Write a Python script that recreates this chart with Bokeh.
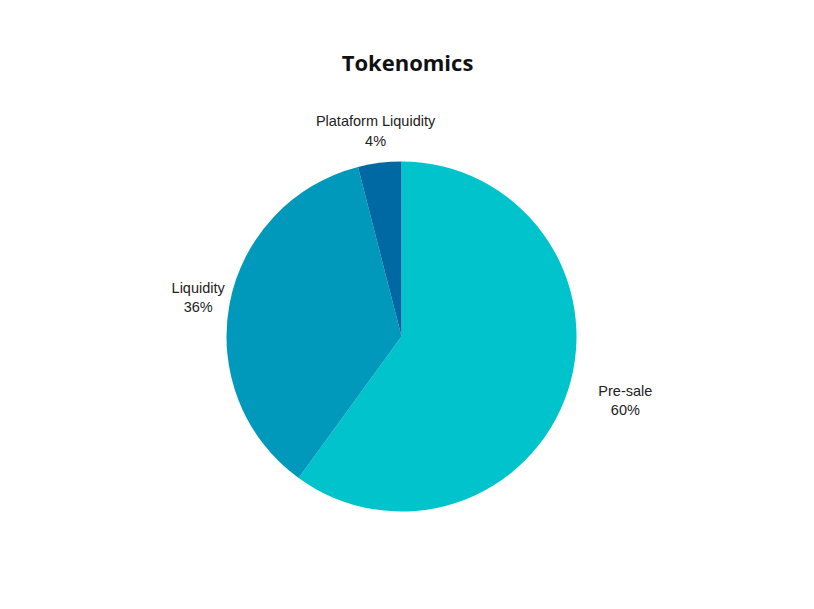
import math
from bokeh.plotting import figure
from bokeh.models import Range1d, ColumnDataSource
from bokeh.core.properties import value
from bokeh.embed import file_html
from bokeh.resources import INLINE

categories = ["Pre-sale", "Liquidity", "Plataform Liquidity"]
shares = [60, 36, 4]
colors = ["#00c3cc", "#0099bb", "#0068a2"]
title_text = "Tokenomics"

W, H = 798, 593
p = figure(width=W, height=H, output_backend="svg", toolbar_location=None,
           x_range=Range1d(0, W), y_range=Range1d(-H, 0),
           min_border=0, outline_line_color=None)
p.axis.visible = False
p.grid.visible = False
p.background_fill_color = "white"
p.border_fill_color = "white"

cx, cy, R = 401, -336, 175
total = sum(shares)
starts, ends, lx, ly, texts = [], [], [], [], []
cum = 0.0
for cat, s in zip(categories, shares):
    a0 = math.pi / 2 - cum / total * 2 * math.pi
    cum += s
    a1 = math.pi / 2 - cum / total * 2 * math.pi
    starts.append(a0)
    ends.append(a1)
    mid = (a0 + a1) / 2
    r_lab = 207
    x = cx + r_lab * math.cos(mid)
    y = cy + r_lab * math.sin(mid)
    if math.cos(mid) > 0.5:
        x += 27
    lx.append(x)
    ly.append(y)
    texts.append(f"{cat}\n{round(s / total * 100)}%")

src = ColumnDataSource(dict(start=starts, end=ends, color=colors))
p.wedge(x=cx, y=cy, radius=R, start_angle="start", end_angle="end",
        direction="clock", fill_color="color", line_color=None, source=src)

p.text(x=lx, y=ly, text=texts, text_align="center", text_baseline="middle",
       text_font=value("Liberation Sans"), text_font_size="14.5px",
       text_color="#222222", text_line_height=1.22)

p.text(x=[407], y=[-61], text=[title_text], text_align="center",
       text_baseline="middle", text_font=value("Open Sans"),
       text_font_style="bold", text_font_size="22px", text_color="#111111")

open("out.html", "w").write(file_html(p, INLINE))
